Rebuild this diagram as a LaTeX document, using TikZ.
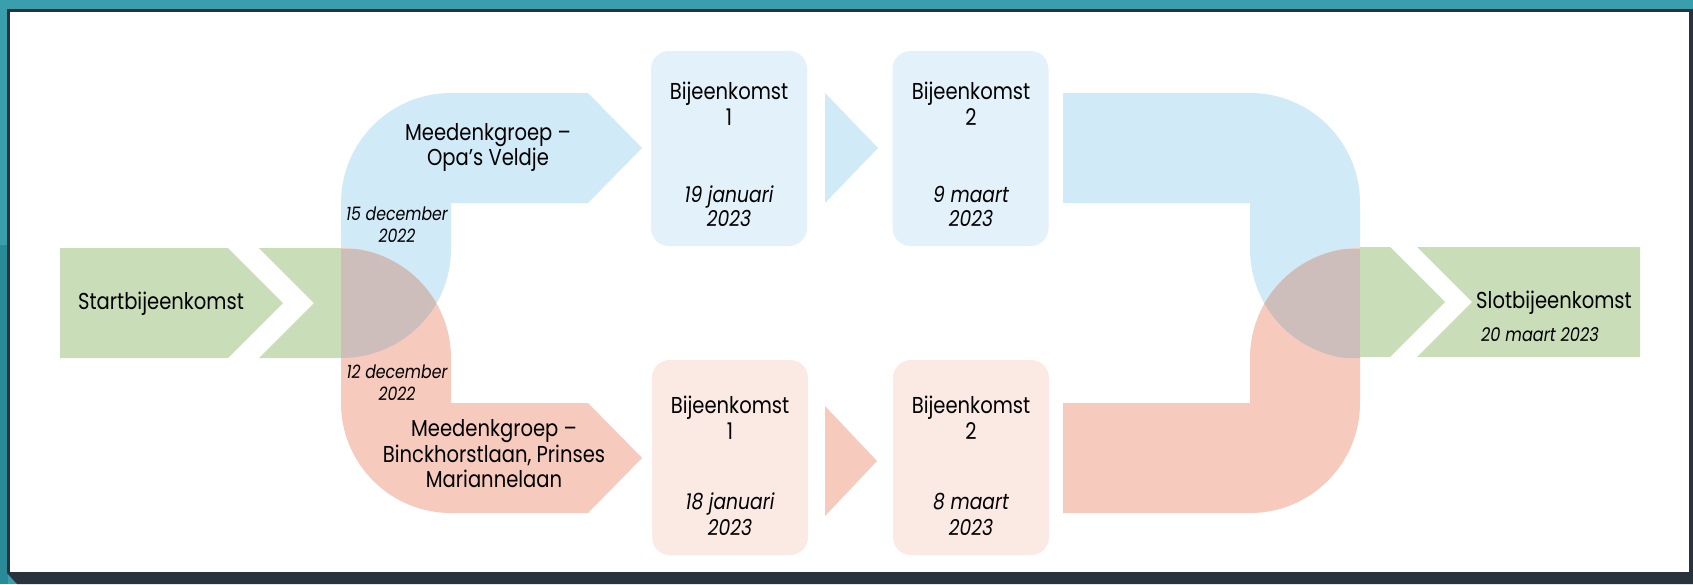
\documentclass[tikz,border=0pt]{standalone}
\usepackage{fontspec}
\setmainfont{Poppins}[FakeStretch=0.85]
\definecolor{tealbg}{HTML}{3A9FAD}
\definecolor{tealdk}{HTML}{2A8B98}
\definecolor{darkbd}{HTML}{29333D}
\definecolor{bandblue}{HTML}{D0EAF8}
\definecolor{boxblue}{HTML}{E3F1FA}
\definecolor{bandred}{HTML}{F6CABD}
\definecolor{boxred}{HTML}{FBE9E3}
\definecolor{grn}{HTML}{C9DEB8}
\definecolor{lens}{HTML}{CDBDBB}
\tikzset{
  mainlbl/.style={anchor=base, inner sep=0pt, font=\fontsize{23}{27}\selectfont, text=black},
  datelbl/.style={anchor=base, inner sep=0pt, font=\fontsize{22}{26}\selectfont\itshape, text=black},
  slotdlbl/.style={anchor=base, inner sep=0pt, font=\fontsize{19}{23}\selectfont\itshape, text=black},
  declbl/.style={anchor=base, inner sep=0pt, font=\fontsize{18.5}{22}\selectfont\itshape, text=black},
  bigbox/.style={rectangle, rounded corners=18pt, minimum width=156pt, minimum height=195pt, inner sep=0pt},
}
\begin{document}
\begin{tikzpicture}[x=1pt, y=-1pt]
\useasboundingbox (0,0) rectangle (1693,584);
% frame
\fill[tealbg] (0,0) rectangle (1693,584);
\fill[tealdk] (0,245) rectangle (8,584);
\fill[darkbd] (7,9) -- (1693,9) -- (1693,584) -- (17,584) -- (7,573) -- cycle;
\fill[white] (10,12) rectangle (1689,572);

% left green chevrons
\fill[grn] (60,248) -- (228,248) -- (283,303) -- (228,358) -- (60,358) -- cycle;
\fill[grn] (259,248) -- (341,248) -- (341,358) -- (259,358) -- (314,303) -- cycle;

% left blue bent arrow
\fill[bandblue] (341,358) .. controls (401.75,358) and (451,309.75) .. (451,249) -- (451,203) -- (588,203) -- (642,148) -- (588,93) -- (451,93) .. controls (390.25,93) and (341,142.25) .. (341,203) -- cycle;
% left red bent arrow
\fill[bandred] (341,248) .. controls (401.75,248) and (451,297.25) .. (451,358) -- (451,403) -- (588,403) -- (642,458) -- (588,513) -- (451,513) .. controls (390.25,513) and (341,463.75) .. (341,403) -- cycle;
% left overlap
\begin{scope}
\clip (341,249) -- (341,358) .. controls (401.75,358) and (451,309.75) .. (451,249) -- cycle;
\fill[lens] (341,358) -- (341,248) .. controls (401.75,248) and (451,297.25) .. (451,358) -- cycle;
\end{scope}

% boxes
\node[bigbox, fill=boxblue] (b1) at (729,148.5) {};
\node[bigbox, fill=boxblue] (b2) at (970.5,148.5) {};
\node[bigbox, fill=boxred] (r1) at (730,457.5) {};
\node[bigbox, fill=boxred] (r2) at (971,457.5) {};

% small triangles
\fill[bandblue] (825,93) -- (878,148) -- (825,203) -- cycle;
\fill[bandred] (825,406) -- (877,461) -- (825,516) -- cycle;

% right blue bent band
\fill[bandblue] (1063,93) -- (1250,93) .. controls (1310.75,93) and (1360,142.25) .. (1360,203) -- (1360,359) .. controls (1299.25,359) and (1250,309.75) .. (1250,249) -- (1250,203) -- (1063,203) -- cycle;
% right red bent band
\fill[bandred] (1360,248) .. controls (1299.25,248) and (1250,297.25) .. (1250,358) -- (1250,403) -- (1063,403) -- (1063,513) -- (1250,513) .. controls (1310.75,513) and (1360,463.75) .. (1360,403) -- cycle;
% right overlap
\begin{scope}
\clip (1360,249) -- (1360,359) .. controls (1299.25,359) and (1250,309.75) .. (1250,249) -- cycle;
\fill[lens] (1360,358) -- (1360,248) .. controls (1299.25,248) and (1250,297.25) .. (1250,358) -- cycle;
\end{scope}

% right green chevrons
\fill[grn] (1360,247) -- (1390,247) -- (1445,302) -- (1390,357) -- (1360,357) -- cycle;
\fill[grn] (1417,247) -- (1640,247) -- (1640,357) -- (1417,357) -- (1472,302) -- cycle;

% texts
\node[mainlbl] (start) at (161,309) {Startbijeenkomst};
\node[mainlbl] (slot) at (1554,308) {Slotbijeenkomst};
\node[slotdlbl] (slotd) at (1540,341) {20 maart 2023};

\node[mainlbl] (bm1) at (488,140) {Meedenkgroep –};
\node[mainlbl] (bm2) at (488,165) {Opa’s Veldje};
\node[declbl] (bd1) at (397,220) {15 december};
\node[declbl] (bd2) at (397,242) {2022};

\node[declbl] (rd1) at (397,378) {12 december};
\node[declbl] (rd2) at (397,400) {2022};
\node[mainlbl] (rm1) at (494,436) {Meedenkgroep –};
\node[mainlbl] (rm2) at (494,462) {Binckhorstlaan, Prinses};
\node[mainlbl] (rm3) at (494,487) {Mariannelaan};

\node[mainlbl] (b1a) at (729,99) {Bijeenkomst};
\node[mainlbl] (b1b) at (729,125) {1};
\node[datelbl] (b1c) at (729,202) {19 januari};
\node[datelbl] (b1d) at (729,226) {2023};

\node[mainlbl] (b2a) at (971,99) {Bijeenkomst};
\node[mainlbl] (b2b) at (971,125) {2};
\node[datelbl] (b2c) at (971,202) {9 maart};
\node[datelbl] (b2d) at (971,226) {2023};

\node[mainlbl] (r1a) at (730,413) {Bijeenkomst};
\node[mainlbl] (r1b) at (730,439) {1};
\node[datelbl] (r1c) at (730,509) {18 januari};
\node[datelbl] (r1d) at (730,535) {2023};

\node[mainlbl] (r2a) at (971,413) {Bijeenkomst};
\node[mainlbl] (r2b) at (971,439) {2};
\node[datelbl] (r2c) at (971,509) {8 maart};
\node[datelbl] (r2d) at (971,535) {2023};
\end{tikzpicture}
\end{document}
